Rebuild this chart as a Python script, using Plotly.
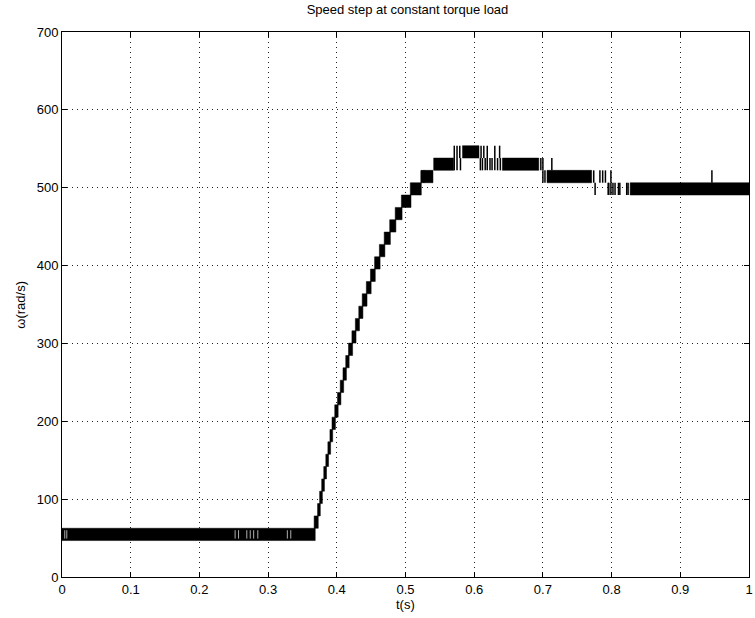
import plotly.graph_objects as go

# Quantised speed levels (band edges, rad/s)
level_edges = [46.8, 62.6, 78.5, 94.3, 110.2, 126.0, 141.9, 157.7, 173.6, 189.4,
               205.3, 221.1, 237.0, 252.8, 268.7, 284.5, 300.4, 316.2, 332.1, 347.9,
               363.8, 379.6, 395.5, 411.3, 427.2, 443.0, 458.9, 474.7, 490.6, 506.4,
               522.3, 538.1, 554.0]

# Dense jitter blocks: start time, end time, band index (signal toggles between two levels)
block_t0 = [0.000, 0.367, 0.372, 0.375, 0.378, 0.381, 0.384, 0.387, 0.390, 0.393,
            0.397, 0.401, 0.405, 0.409, 0.413, 0.417, 0.422, 0.427, 0.432, 0.437,
            0.443, 0.449, 0.455, 0.462, 0.469, 0.477, 0.485, 0.494, 0.507,
            0.523, 0.541, 0.583, 0.641, 0.706, 0.827]
block_t1 = [0.3686, 0.373, 0.376, 0.379, 0.382, 0.385, 0.388, 0.391, 0.394, 0.398,
            0.402, 0.406, 0.410, 0.414, 0.418, 0.423, 0.428, 0.433, 0.438, 0.444,
            0.450, 0.456, 0.463, 0.470, 0.478, 0.486, 0.495, 0.508, 0.523,
            0.540, 0.570, 0.607, 0.694, 0.771, 1.000]
block_k = [0, 1, 2, 3, 4, 5, 6, 7, 8, 9,
           10, 11, 12, 13, 14, 15, 16, 17, 18, 19,
           20, 21, 22, 23, 24, 25, 26, 27, 28,
           29, 30, 31, 30, 29, 28]

# Isolated transitions (thin vertical strokes): time, band index
spike_t = [0.523, 0.527,
           0.571, 0.575, 0.580, 0.609, 0.612, 0.616, 0.619, 0.623, 0.626, 0.630, 0.634, 0.638,
           0.697, 0.700, 0.713,
           0.571, 0.575, 0.579, 0.610, 0.614, 0.619, 0.630, 0.637,
           0.700, 0.703, 0.774, 0.783, 0.787, 0.791, 0.799, 0.946,
           0.776, 0.795, 0.796, 0.799, 0.802, 0.805, 0.810, 0.812, 0.822, 0.824]
spike_k = [29, 29,
           30, 30, 30, 30, 30, 30, 30, 30, 30, 30, 30, 30,
           30, 30, 30,
           31, 31, 31, 31, 31, 31, 31, 31,
           29, 29, 29, 29, 29, 29, 29, 29,
           28, 28, 28, 28, 28, 28, 28, 28, 28, 28]

# Quiet spells inside the low band (no toggling)
gap_t = [0.004, 0.007, 0.252, 0.257, 0.269, 0.274, 0.279, 0.285, 0.328, 0.333]
gap_k = [0, 0, 0, 0, 0, 0, 0, 0, 0, 0]

x_ticks = [0, 0.1, 0.2, 0.3, 0.4, 0.5, 0.6, 0.7, 0.8, 0.9, 1]
x_tick_labels = ["0", "0.1", "0.2", "0.3", "0.4", "0.5", "0.6", "0.7", "0.8", "0.9", "1"]
y_ticks = [0, 100, 200, 300, 400, 500, 600, 700]

# Build traces
bx, by = [], []
for t0, t1, k in zip(block_t0, block_t1, block_k):
    lo, hi = level_edges[k], level_edges[k + 1]
    bx += [t0, t1, t1, t0, t0, None]
    by += [lo, lo, hi, hi, lo, None]

sx, sy = [], []
for t, k in zip(spike_t, spike_k):
    sx += [t, t, None]
    sy += [level_edges[k], level_edges[k + 1], None]

gx, gy = [], []
for t, k in zip(gap_t, gap_k):
    gx += [t, t, None]
    gy += [level_edges[k] + 2.5, level_edges[k + 1] - 2.5, None]

fig = go.Figure()
fig.add_trace(go.Scatter(x=bx, y=by, mode="lines", fill="toself", fillcolor="black",
                         line=dict(color="black", width=0.5), hoverinfo="skip",
                         showlegend=False))
fig.add_trace(go.Scatter(x=gx, y=gy, mode="lines", line=dict(color="#dddddd", width=0.8),
                         hoverinfo="skip", showlegend=False))
fig.add_trace(go.Scatter(x=sx, y=sy, mode="lines", line=dict(color="black", width=1.5),
                         hoverinfo="skip", showlegend=False))

font_family = "Liberation Sans, Arial, Helvetica, sans-serif"
axis_common = dict(
    showgrid=True, gridcolor="#222222", griddash="1px,4px", gridwidth=1,
    ticks="inside", ticklen=5, tickcolor="black", tickwidth=1,
    showline=True, linecolor="black", linewidth=1, mirror="ticks",
    zeroline=False, ticklabeloverflow="allow",
    tickfont=dict(family=font_family, size=13, color="black"),
)

fig.update_layout(
    width=755, height=618,
    margin=dict(l=62, r=2, t=32, b=41),
    paper_bgcolor="white", plot_bgcolor="white",
    font=dict(family=font_family, size=13, color="black"),
    title=dict(text="Speed step at constant torque load", x=(62 + 753) / 2 / 755,
               xanchor="center", y=1 - 9 / 618, yanchor="middle", yref="container",
               font=dict(family=font_family, size=13, color="black")),
    xaxis=dict(range=[0, 1], tickvals=x_ticks, ticktext=x_tick_labels, **axis_common),
    yaxis=dict(range=[0, 700], tickvals=y_ticks, **axis_common),
    annotations=[
        dict(text="t(s)", xref="paper", yref="paper", x=0.5, y=-(604 - 577) / 545,
             xanchor="center", yanchor="middle", showarrow=False,
             font=dict(family=font_family, size=13, color="black")),
        dict(text="ω(rad/s)", xref="paper", yref="paper", x=-(62 - 20) / 691, y=0.5,
             xanchor="center", yanchor="middle", showarrow=False, textangle=-90,
             font=dict(family=font_family, size=13, color="black")),
    ],
)

fig.write_html("out.html")
